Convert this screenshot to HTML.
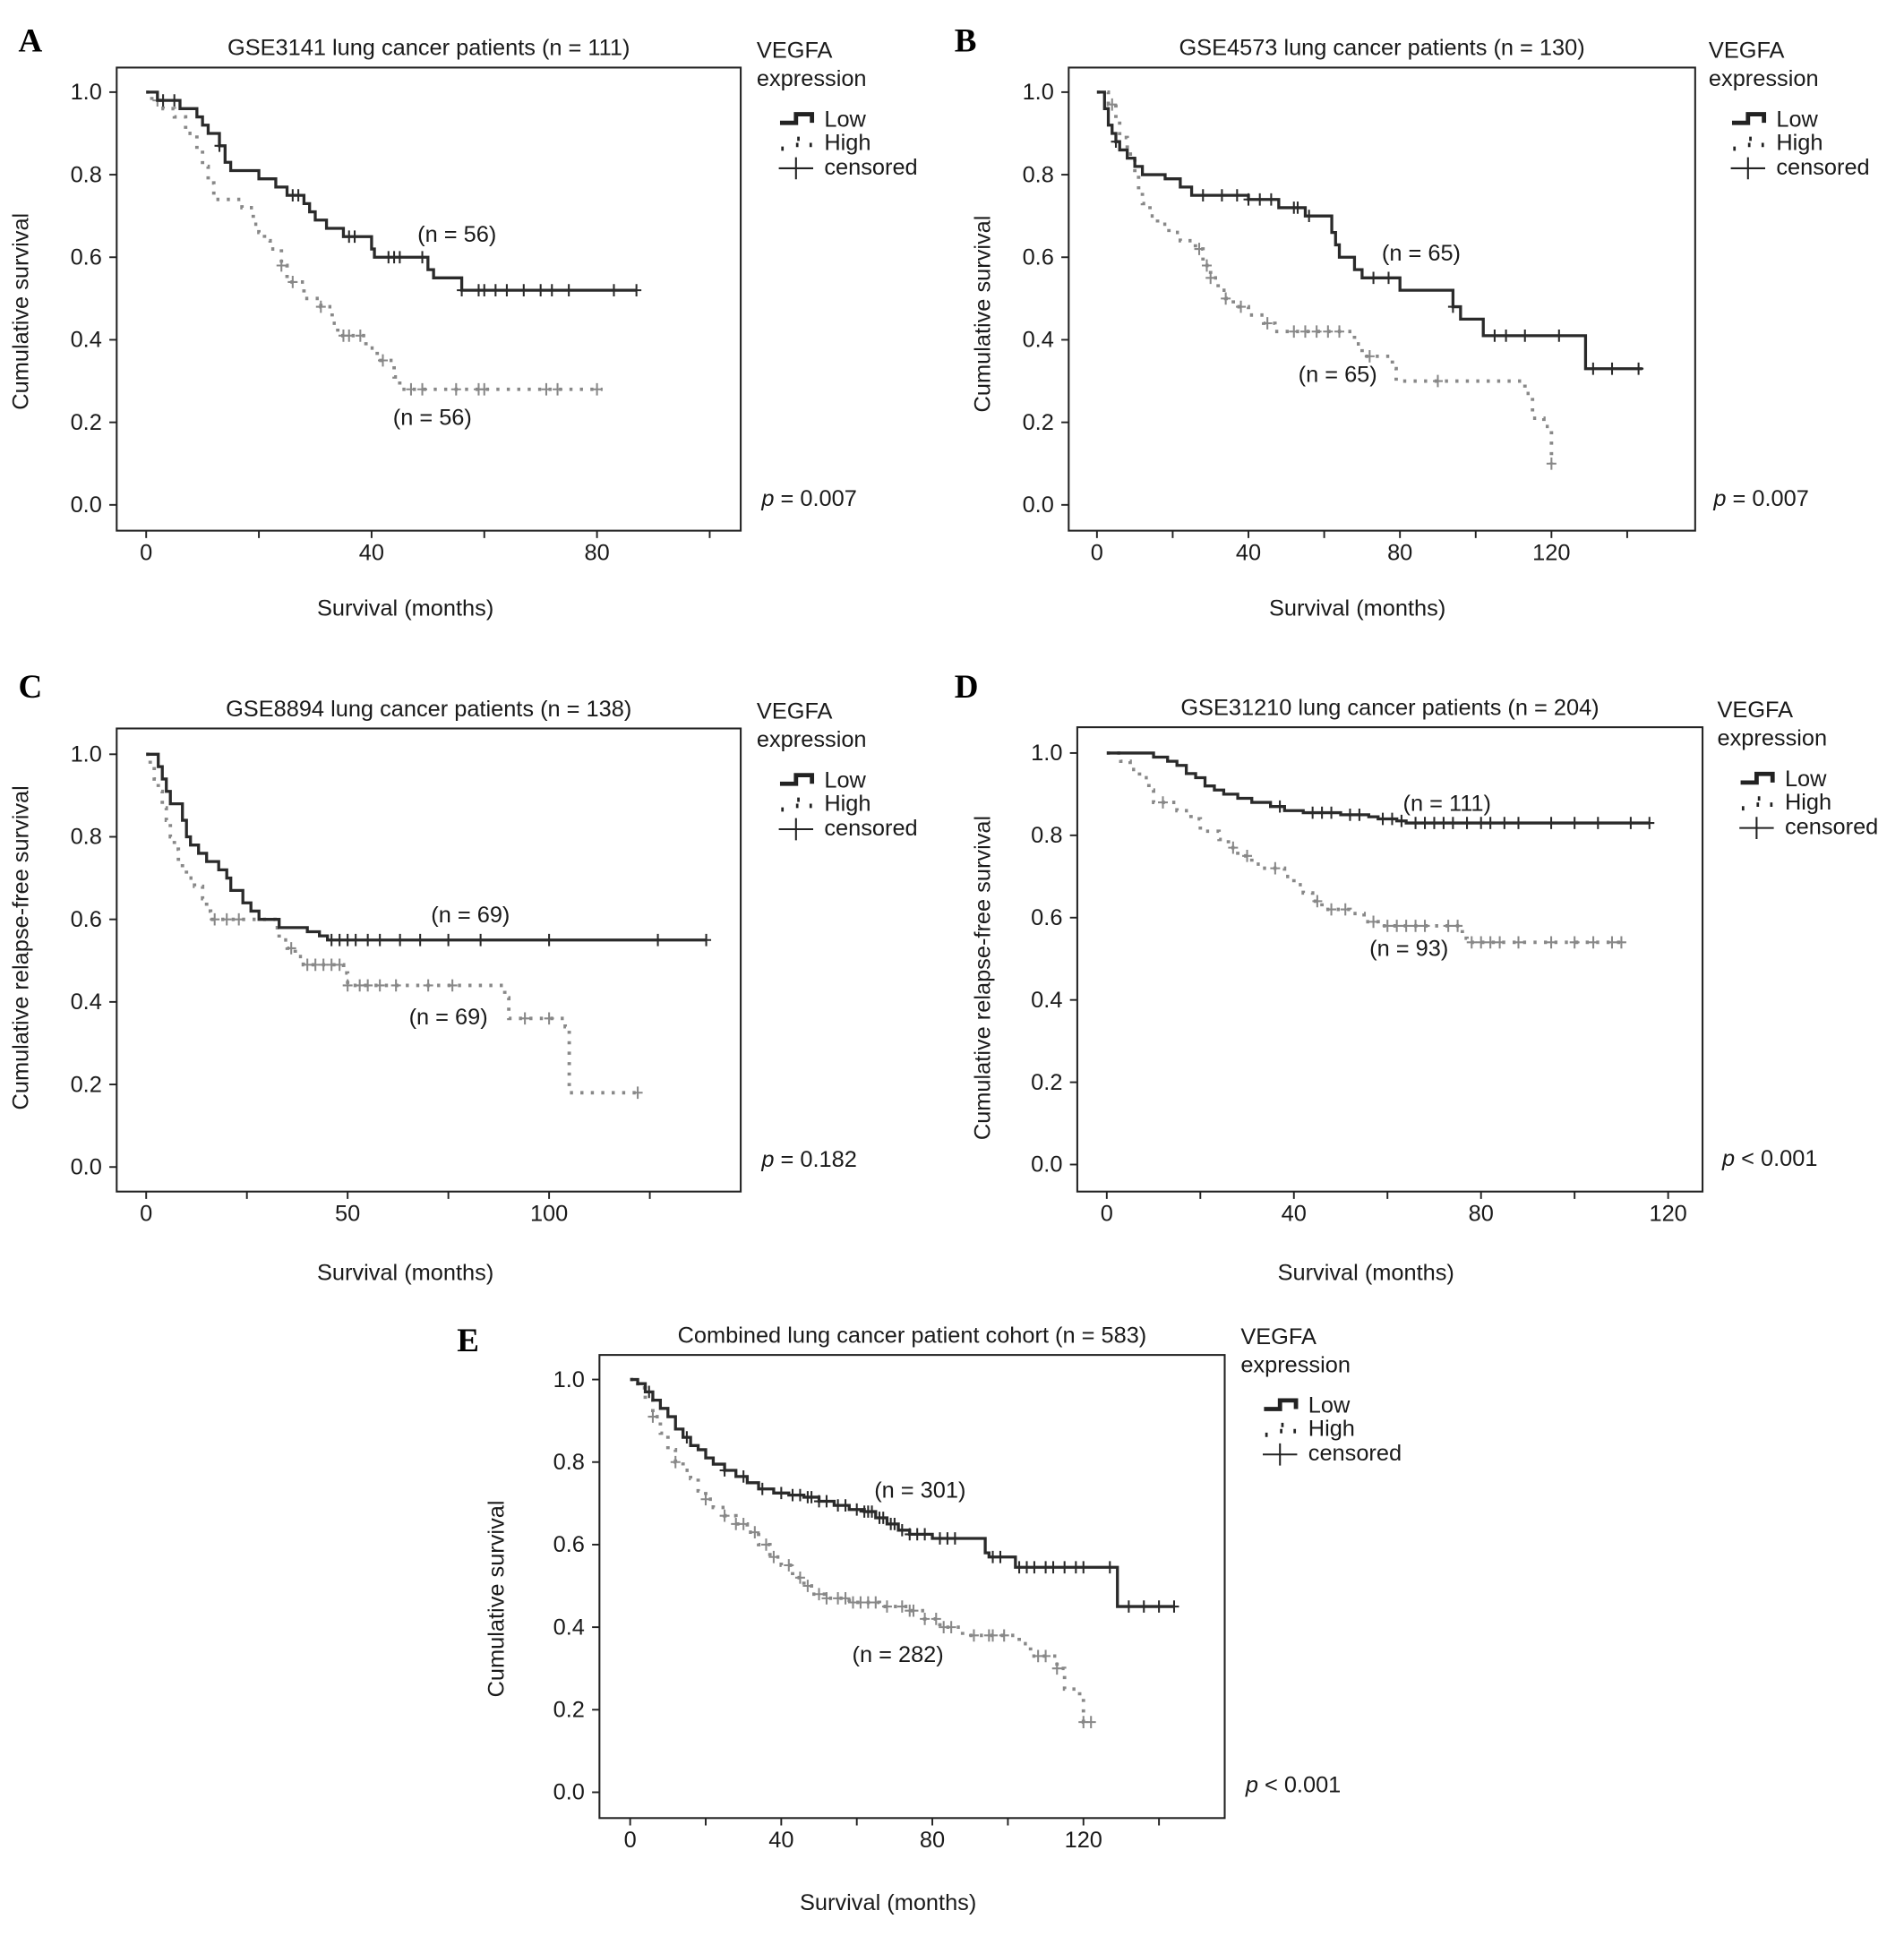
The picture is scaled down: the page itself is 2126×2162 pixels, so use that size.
<!DOCTYPE html>
<html><head><meta charset="utf-8"><style>
html,body{margin:0;padding:0;background:#fff}
svg{display:block}
text{font-family:"Liberation Sans",sans-serif;fill:#1a1a1a}
text.plab{font-family:"Liberation Serif",serif;font-weight:bold;fill:#000}
</style></head><body>
<svg id="fig" width="2126" height="2162" viewBox="0 0 1550 1576" preserveAspectRatio="none" xmlns="http://www.w3.org/2000/svg"></svg>
<script>
// ---- data ----
const aLow=[[0,1],[2,0.98],[6,0.96],[9,0.94],[10,0.92],[11,0.9],[13,0.87],[14,0.83],[15,0.81],[20,0.79],[23,0.77],[25,0.75],[28,0.73],[29,0.71],[30,0.69],[32,0.67],[35,0.65],[40,0.62],[40.5,0.6],[50,0.57],[51,0.55],[56,0.52]];
const aLowEnd=87;
const aLowCens=[3,5,13,26,27,36,37,43,44,45,49,56,59,60,62,64,67,70,72,75,83,87];
const aHigh=[[0,1],[1,0.98],[3,0.96],[5,0.94],[7,0.9],[9,0.86],[10,0.82],[11,0.78],[12,0.74],[17,0.72],[19,0.68],[20,0.66],[21,0.64],[22,0.62],[24,0.58],[25,0.54],[28,0.5],[31,0.48],[33,0.44],[34,0.41],[39,0.38],[41,0.35],[44,0.31],[45,0.28]];
const aHighEnd=81;
const aHighCens=[2,24,26,31,35,36,38,42,47,49,55,59,60,71,73,80];

const bLow=[[0,1],[2,0.96],[3,0.92],[4,0.9],[5,0.88],[6,0.86],[8,0.84],[10,0.82],[12,0.8],[18,0.79],[22,0.77],[25,0.75],[40,0.74],[48,0.72],[55,0.7],[62,0.66],[63,0.63],[64,0.6],[68,0.57],[70,0.55],[80,0.52],[94,0.48],[96,0.45],[102,0.41],[129,0.33]];
const bLowEnd=144;
const bLowCens=[5,28,33,37,40,43,46,52,53,56,73,77,94,105,108,113,122,131,136,143];
const bHigh=[[0,1],[3,0.97],[5,0.93],[6,0.89],[8,0.85],[10,0.8],[11,0.76],[12,0.73],[14,0.7],[16,0.68],[19,0.66],[22,0.64],[26,0.62],[28,0.58],[30,0.55],[32,0.52],[34,0.5],[36,0.48],[40,0.46],[44,0.44],[47,0.42],[68,0.39],[70,0.36],[78,0.33],[79,0.3],[113,0.27],[115,0.21],[118,0.19],[120,0.1]];
const bHighEnd=120;
const bHighCens=[4,27,29,30,34,38,45,52,55,58,61,64,72,90,120];

const cLow=[[0,1],[3,0.97],[4,0.94],[5,0.91],[6,0.88],[9,0.84],[10,0.8],[11,0.78],[13,0.76],[15,0.74],[18,0.72],[20,0.7],[21,0.67],[24,0.64],[26,0.62],[28,0.6],[33,0.58],[40,0.57],[43,0.56],[45,0.55]];
const cLowEnd=139;
const cLowCens=[46,48,50,52,55,58,63,68,75,83,100,127,139];
const cHigh=[[0,1],[1,0.97],[2,0.94],[3,0.91],[4,0.87],[5,0.84],[6,0.8],[7,0.77],[8,0.74],[9,0.72],[10,0.7],[12,0.68],[14,0.65],[15,0.62],[16,0.6],[32,0.58],[33,0.55],[35,0.53],[37,0.51],[39,0.49],[49,0.47],[50,0.44],[89,0.41],[90,0.36],[104,0.34],[105,0.18]];
const cHighEnd=122;
const cHighCens=[17,20,23,36,40,42,44,46,48,50,53,55,58,62,70,76,94,100,122];

const dLow=[[0,1],[10,0.99],[13,0.98],[15,0.97],[17,0.95],[19,0.94],[21,0.92],[23,0.91],[25,0.9],[28,0.89],[31,0.88],[35,0.87],[38,0.86],[42,0.855],[50,0.85],[56,0.845],[58,0.84],[62,0.835],[64,0.83]];
const dLowEnd=116;
const dLowCens=[37,44,46,48,52,54,59,61,63,66,68,70,72,74,77,80,82,85,88,95,100,105,112,116];
const dHigh=[[0,1],[3,0.98],[5,0.96],[7,0.94],[9,0.91],[10,0.88],[15,0.86],[18,0.84],[20,0.81],[24,0.79],[26,0.77],[28,0.75],[31,0.73],[33,0.72],[38,0.7],[40,0.68],[42,0.66],[44,0.64],[46,0.62],[52,0.61],[55,0.59],[58,0.58],[76,0.55],[77,0.54]];
const dHighEnd=110;
const dHighCens=[12,27,30,36,45,48,51,57,60,62,64,66,68,73,75,78,80,82,84,88,95,100,104,108,110];

const eLow=[[0,1],[2,0.99],[4,0.97],[6,0.95],[8,0.93],[10,0.91],[12,0.88],[14,0.86],[16,0.84],[18,0.83],[20,0.81],[22,0.795],[25,0.78],[28,0.765],[31,0.75],[34,0.735],[38,0.725],[42,0.72],[46,0.715],[50,0.705],[54,0.695],[58,0.685],[62,0.68],[65,0.665],[68,0.65],[71,0.635],[74,0.625],[80,0.615],[94,0.58],[95,0.57],[102,0.545],[129,0.45]];
const eLowEnd=144;
const eLowCens=[5,15,25,30,35,40,43,45,47,48,50,52,55,57,60,62,63,64,66,67,69,70,72,74,76,78,82,84,86,96,98,103,105,107,110,112,115,118,120,127,132,136,140,144];
const eHigh=[[0,1],[2,0.98],[4,0.95],[6,0.91],[8,0.87],[10,0.83],[12,0.8],[14,0.78],[16,0.76],[18,0.73],[20,0.71],[22,0.69],[25,0.67],[28,0.65],[31,0.63],[34,0.6],[37,0.57],[40,0.55],[43,0.52],[46,0.5],[48,0.48],[52,0.47],[58,0.46],[66,0.45],[74,0.44],[78,0.42],[82,0.4],[88,0.38],[103,0.36],[106,0.33],[113,0.3],[115,0.25],[119,0.23],[120,0.17]];
const eHighEnd=122;
const eHighCens=[6,12,20,25,28,30,33,36,38,42,45,47,50,52,55,57,59,61,63,65,68,72,74,75,78,81,83,85,91,95,96,99,108,110,113,120,122];

const yTicks=[0,0.2,0.4,0.6,0.8,1.0];
const xTicksA=[0,40,80], xTicksB=[0,40,80,120], xTicksC=[0,50,100], xTicksD=[0,40,80,120], xTicksE=[0,40,80,120];

const NS="http://www.w3.org/2000/svg";
const svg=document.getElementById('fig');
function el(tag,attrs,parent){const e=document.createElementNS(NS,tag);for(const k in attrs)e.setAttribute(k,attrs[k]);(parent||svg).appendChild(e);return e;}
function txt(s,x,y,size,anchor,parent,extra){const t=el('text',Object.assign({x:x,y:y,'font-size':size,'text-anchor':anchor||'start'},extra||{}),parent);t.textContent=s;return t;}
const FS=18.5;

function panel(o){
  const g=el('g',{});
  
  
  const xs=m=>o.x0+(m)*(o.x1-o.x0)/o.xv1;
  const ys=v=>o.y0+(1-v)*(o.y1-o.y0);
  const box=el('rect',{x:o.bx0,y:o.by0,width:o.bx1-o.bx0,height:o.by1-o.by0,fill:'none',stroke:'#222','stroke-width':1.5},g);
  
  
  const lab=txt(o.id,o.lx,o.ly,27,'start',g,{'class':'plab'});
  
  
  const ti=txt(o.title,(o.bx0+o.bx1)/2,o.by0-10,FS,'middle',g);
  
  
  yTicks.forEach(v=>{
    el('line',{x1:o.bx0-6,x2:o.bx0,y1:ys(v),y2:ys(v),stroke:'#222','stroke-width':1.4},g);
    const t=txt(v.toFixed(1),o.bx0-12,ys(v)+6,FS,'end',g);
    
    
  });
  for(let m=0;xs(m)<=o.bx1+1;m+=o.xstep){el('line',{x1:xs(m),x2:xs(m),y1:o.by1,y2:o.by1+6,stroke:'#222','stroke-width':1.4},g);}
  o.xticks.forEach(m=>{
    const t=txt(String(m),xs(m),o.by1+24,FS,'middle',g);
    
    
  });
  const xl=txt('Survival (months)',o.xlx,o.xly,FS,'middle',g);
  
  
  const cy=(o.by0+o.by1)/2+(o.ylo||0);
  const yl=txt(o.ytitle,o.ylx,cy,FS,'middle',g,{transform:'rotate(-90 '+o.ylx+' '+cy+')'});
  
  
  function curve(pts,end,cens,low,name){
    let d='M'+xs(pts[0][0])+','+ys(pts[0][1]);
    for(let i=1;i<pts.length;i++){d+=' H'+xs(pts[i][0])+' V'+ys(pts[i][1]);}
    d+=' H'+xs(end);
    const p=el('path',{d:d,fill:'none',stroke:low?'#2a2a2a':'#888','stroke-width':low?2.4:2.8,'stroke-dasharray':low?'none':'2.5 6'},g);
    
    
    cens.forEach(m=>{
      let s=pts[0][1];for(const q of pts){if(q[0]<=m)s=q[1];}
      const X=xs(m),Y=ys(s);
      const c=el('path',{d:'M'+(X-4)+','+Y+' H'+(X+4)+' M'+X+','+(Y-5)+' V'+(Y+5),stroke:low?'#2a2a2a':'#888','stroke-width':1.5},g);
      
      
    });
  }
  curve(o.high,o.highEnd,o.highCens,false,'high-vegfa');
  curve(o.low,o.lowEnd,o.lowCens,true,'low-vegfa');
  const n1=txt(o.nLow[0],o.nLow[1],o.nLow[2]+6,FS,'middle',g);
  
  
  const n2=txt(o.nHigh[0],o.nHigh[1],o.nHigh[2]+6,FS,'middle',g);
  
  
  const lg=el('g',{},g);
  
  
  const L=o.legx,T=o.legy;
  txt('VEGFA',L,T+6,FS,'start',lg);
  txt('expression',L,T+29,FS,'start',lg);
  el('path',{d:'M'+(L+19)+','+(T+59)+' H'+(L+32)+' V'+(T+52)+' H'+(L+45)+' V'+(T+59),fill:'none',stroke:'#222','stroke-width':3.5},lg);
  txt('Low',L+55,T+62,FS,'start',lg);
  el('path',{d:'M'+(L+20)+','+(T+80)+' L'+(L+22)+','+(T+80)+' M'+(L+32)+','+(T+77)+' L'+(L+34)+','+(T+77)+' M'+(L+33)+','+(T+72)+' L'+(L+35)+','+(T+72)+' M'+(L+43)+','+(T+77)+' L'+(L+45)+','+(T+77),stroke:'#222','stroke-width':3.5},lg);
  txt('High',L+55,T+81,FS,'start',lg);
  el('path',{d:'M'+(L+18)+','+(T+96)+' H'+(L+46)+' M'+(L+32)+','+(T+87)+' V'+(T+105),stroke:'#222','stroke-width':1.5},lg);
  txt('censored',L+55,T+101,FS,'start',lg);
  const pv=el('text',{x:o.px,y:o.py+6,'font-size':FS},g);
  
  
  const it=el('tspan',{'font-style':'italic'},pv);it.textContent='p';
  const rest=el('tspan',{},pv);rest.textContent=o.ptext;
}

panel({id:'A',title:'GSE3141 lung cancer patients (n = 111)',bx0:95,bx1:603,by0:55,by1:432,x0:119,x1:486,xv1:80,y0:75,y1:411,xstep:20,xticks:xTicksA,lx:15,ly:42,xlx:330,xly:501,ylx:23,ytitle:'Cumulative  survival',ylo:10,
  low:aLow,lowEnd:aLowEnd,lowCens:aLowCens,high:aHigh,highEnd:aHighEnd,highCens:aHighCens,nLow:['(n = 56)',372,191],nHigh:['(n = 56)',352,340],legx:616,legy:41,px:620,py:406,ptext:' = 0.007'});
panel({id:'B',title:'GSE4573 lung cancer patients (n = 130)',bx0:870,bx1:1380,by0:55,by1:432,x0:893,x1:1263,xv1:120,y0:75,y1:411,xstep:20,xticks:xTicksB,lx:777,ly:42,xlx:1105,xly:501,ylx:806,ytitle:'Cumulative  survival',ylo:12,
  low:bLow,lowEnd:bLowEnd,lowCens:bLowCens,high:bHigh,highEnd:bHighEnd,highCens:bHighCens,nLow:['(n = 65)',1157,206],nHigh:['(n = 65)',1089,305],legx:1391,legy:41,px:1395,py:406,ptext:' = 0.007'});
panel({id:'C',title:'GSE8894 lung cancer patients (n = 138)',bx0:95,bx1:603,by0:593,by1:970,x0:119,x1:447,xv1:100,y0:614,y1:950,xstep:25,xticks:xTicksC,lx:15,ly:568,xlx:330,xly:1042,ylx:23,ytitle:'Cumulative  relapse-free  survival',ylo:-10,
  low:cLow,lowEnd:cLowEnd,lowCens:cLowCens,high:cHigh,highEnd:cHighEnd,highCens:cHighCens,nLow:['(n = 69)',383,745],nHigh:['(n = 69)',365,828],legx:616,legy:579,px:620,py:944,ptext:' = 0.182'});
panel({id:'D',title:'GSE31210 lung cancer patients (n = 204)',bx0:877,bx1:1386,by0:592,by1:970,x0:901,x1:1358,xv1:120,y0:613,y1:948,xstep:20,xticks:xTicksD,lx:777,ly:568,xlx:1112,xly:1042,ylx:806,ytitle:'Cumulative  relapse-free  survival',ylo:15,
  low:dLow,lowEnd:dLowEnd,lowCens:dLowCens,high:dHigh,highEnd:dHighEnd,highCens:dHighCens,nLow:['(n = 111)',1178,654],nHigh:['(n = 93)',1147,772],legx:1398,legy:578,px:1402,py:943,ptext:' < 0.001'});
panel({id:'E',title:'Combined lung cancer patient cohort (n = 583)',bx0:488,bx1:997,by0:1103,by1:1480,x0:513,x1:882,xv1:120,y0:1123,y1:1459,xstep:20,xticks:xTicksE,lx:372,ly:1100,xlx:723,xly:1555,ylx:410,ytitle:'Cumulative  survival',ylo:10,
  low:eLow,lowEnd:eLowEnd,lowCens:eLowCens,high:eHigh,highEnd:eHighEnd,highCens:eHighCens,nLow:['(n = 301)',749,1213],nHigh:['(n = 282)',731,1347],legx:1010,legy:1088,px:1014,py:1453,ptext:' < 0.001'});
</script>
</body></html>
